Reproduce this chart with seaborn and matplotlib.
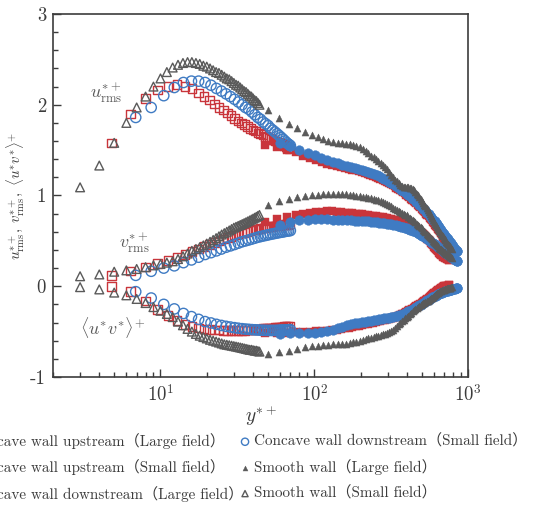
import matplotlib
matplotlib.use("Agg")
import matplotlib.pyplot as plt
import pandas as pd
import seaborn as sns
from matplotlib.ticker import FixedLocator, LogLocator, MultipleLocator, NullFormatter

sns.set_style("ticks")
plt.rcParams["font.family"] = ["cmr10", "Noto Sans CJK SC"]
plt.rcParams["mathtext.fontset"] = "cm"
plt.rcParams["axes.unicode_minus"] = False
plt.rcParams["axes.formatter.use_mathtext"] = True

# ---------------- data: wall-normal positions y*+ ----------------
RED_S_YP = [4.8, 6.4, 8.0, 9.6, 11.2, 12.8, 14.4, 16.0, 17.6, 19.2,
            20.8, 22.4, 24.0, 25.6, 27.2, 28.8, 30.4, 32.0, 33.6, 35.2,
            36.8, 38.4, 40.0, 41.6, 43.2, 44.8, 46.4, 48.0, 49.6, 51.2,
            52.8, 54.4, 56.0, 57.6, 59.2, 60.8, 62.4, 64.0, 65.6, 67.2,
            68.8]
BLUE_S_YP = [6.9, 8.7, 10.5, 12.3, 14.1, 15.9, 17.7, 19.5, 21.3, 23.1,
             24.9, 26.7, 28.5, 30.3, 32.1, 33.9, 35.7, 37.5, 39.3, 41.1,
             42.9, 44.7, 46.5, 48.3, 50.1, 51.9, 53.7, 55.5, 57.3, 59.1,
             60.9, 62.7, 64.5, 66.3, 68.1, 69.9]
GRAY_S_YP = [3, 4, 5, 6, 7, 8, 9, 10, 11, 12,
             13, 14, 15, 16, 17, 18, 19, 20, 21, 22,
             23, 24, 25, 26, 27, 28, 29, 30, 31, 32,
             33, 34, 35, 36, 37, 38, 39, 40, 41, 42,
             43, 44]
RED_L_YP = [48.0, 57.2, 66.4, 75.6, 84.8, 94.0, 103.2, 112.4, 121.6, 130.8,
            140.0, 149.2, 158.4, 167.6, 176.8, 186.0, 195.2, 204.4, 213.6, 222.8,
            232.0, 241.2, 250.4, 259.6, 268.8, 278.0, 287.2, 296.4, 305.6, 314.8,
            324.0, 333.2, 342.4, 351.6, 360.8, 370.0, 379.2, 388.4, 397.6, 406.8,
            416.0, 425.2, 434.4, 443.6, 452.8, 462.0, 471.2, 480.4, 489.6, 498.8,
            508.0, 517.2, 526.4, 535.6, 544.8, 554.0, 563.2, 572.4, 581.6, 590.8,
            600.0, 609.2, 618.4, 627.6, 636.8, 646.0, 655.2, 664.4, 673.6, 682.8,
            692.0, 701.2, 710.4, 719.6, 728.8, 738.0, 747.2, 756.4]
BLUE_L_YP = [59.5, 69.8, 80.1, 90.4, 100.7, 111.0, 121.3, 131.6, 141.9, 152.2,
             162.5, 172.8, 183.1, 193.4, 203.7, 214.0, 224.3, 234.6, 244.9, 255.2,
             265.5, 275.8, 286.1, 296.4, 306.7, 317.0, 327.3, 337.6, 347.9, 358.2,
             368.5, 378.8, 389.1, 399.4, 409.7, 420.0, 430.3, 440.6, 450.9, 461.2,
             471.5, 481.8, 492.1, 502.4, 512.7, 523.0, 533.3, 543.6, 553.9, 564.2,
             574.5, 584.8, 595.1, 605.4, 615.7, 626.0, 636.3, 646.6, 656.9, 667.2,
             677.5, 687.8, 698.1, 708.4, 718.7, 729.0, 739.3, 749.6, 759.9, 770.2,
             780.5, 790.8, 801.1, 811.4, 821.7, 832.0, 842.3, 852.6]
GRAY_L_YP = [50.0, 59.2, 68.4, 77.6, 86.8, 96.0, 105.2, 114.4, 123.6, 132.8,
             142.0, 151.2, 160.4, 169.6, 178.8, 188.0, 197.2, 206.4, 215.6, 224.8,
             234.0, 243.2, 252.4, 261.6, 270.8, 280.0, 289.2, 298.4, 307.6, 316.8,
             326.0, 335.2, 344.4, 353.6, 362.8, 372.0, 381.2, 390.4, 399.6, 408.8,
             418.0, 427.2, 436.4, 445.6, 454.8, 464.0, 473.2, 482.4, 491.6, 500.8,
             510.0, 519.2, 528.4, 537.6, 546.8, 556.0, 565.2, 574.4, 583.6, 592.8,
             602.0, 611.2, 620.4, 629.6, 638.8, 648.0, 657.2, 666.4, 675.6, 684.8,
             694.0, 703.2, 712.4, 721.6, 730.8, 740.0, 749.2, 758.4, 767.6, 776.8,
             786.0]

# ---------------- concave wall upstream, small field ----------------
RED_S_U = [1.58, 1.90, 2.07, 2.16, 2.20, 2.22, 2.20, 2.18, 2.13, 2.09,
           2.05, 2.01, 1.97, 1.94, 1.91, 1.88, 1.85, 1.82, 1.80, 1.78,
           1.76, 1.74, 1.72, 1.71, 1.69, 1.68, 1.67, 1.65, 1.64, 1.63,
           1.62, 1.61, 1.60, 1.59, 1.58, 1.57, 1.56, 1.55, 1.54, 1.53,
           1.52]
RED_S_V = [0.12, 0.17, 0.21, 0.25, 0.285, 0.32, 0.35, 0.38, 0.41, 0.44,
           0.46, 0.48, 0.50, 0.52, 0.535, 0.55, 0.565, 0.575, 0.585, 0.595,
           0.605, 0.613, 0.62, 0.627, 0.633, 0.638, 0.643, 0.648, 0.652, 0.656,
           0.66, 0.663, 0.666, 0.669, 0.672, 0.675, 0.677, 0.679, 0.681, 0.683,
           0.685]
RED_S_UV = [-0.005, -0.06, -0.165, -0.255, -0.32, -0.375, -0.42, -0.445, -0.46, -0.47,
            -0.475, -0.48, -0.483, -0.485, -0.487, -0.488, -0.488, -0.487, -0.486, -0.485,
            -0.483, -0.48, -0.478, -0.475, -0.473, -0.47, -0.468, -0.466, -0.464, -0.462,
            -0.46, -0.458, -0.456, -0.454, -0.452, -0.45, -0.448, -0.446, -0.444, -0.442,
            -0.44]

# ---------------- concave wall downstream, small field ----------------
BLUE_S_U = [1.86, 1.97, 2.10, 2.19, 2.245, 2.26, 2.26, 2.245, 2.215, 2.18,
            2.15, 2.12, 2.09, 2.06, 2.03, 2.00, 1.97, 1.95, 1.92, 1.89,
            1.86, 1.84, 1.81, 1.79, 1.77, 1.74, 1.72, 1.70, 1.68, 1.66,
            1.64, 1.62, 1.60, 1.58, 1.565, 1.55]
BLUE_S_V = [0.12, 0.165, 0.20, 0.225, 0.26, 0.29, 0.32, 0.35, 0.37, 0.39,
            0.41, 0.43, 0.445, 0.46, 0.475, 0.49, 0.50, 0.51, 0.52, 0.53,
            0.54, 0.547, 0.554, 0.56, 0.566, 0.572, 0.577, 0.582, 0.587, 0.591,
            0.595, 0.599, 0.603, 0.607, 0.61, 0.613]
BLUE_S_UV = [-0.06, -0.13, -0.20, -0.25, -0.30, -0.335, -0.365, -0.39, -0.405, -0.42,
             -0.432, -0.442, -0.45, -0.457, -0.463, -0.468, -0.472, -0.475, -0.478, -0.48,
             -0.482, -0.484, -0.485, -0.486, -0.487, -0.487, -0.487, -0.487, -0.486, -0.485,
             -0.484, -0.483, -0.482, -0.481, -0.48, -0.479]

# ---------------- smooth wall, small field ----------------
GRAY_S_U = [1.09, 1.33, 1.58, 1.80, 1.97, 2.09, 2.20, 2.29, 2.36, 2.41,
            2.44, 2.46, 2.47, 2.47, 2.46, 2.45, 2.43, 2.42, 2.40, 2.38,
            2.36, 2.35, 2.33, 2.31, 2.29, 2.28, 2.26, 2.24, 2.22, 2.21,
            2.19, 2.17, 2.15, 2.14, 2.12, 2.10, 2.09, 2.07, 2.05, 2.04,
            2.02, 2.00]
GRAY_S_V = [0.11, 0.13, 0.16, 0.175, 0.19, 0.21, 0.23, 0.245, 0.26, 0.275,
            0.30, 0.33, 0.36, 0.39, 0.41, 0.43, 0.45, 0.47, 0.49, 0.51,
            0.53, 0.55, 0.57, 0.585, 0.60, 0.615, 0.63, 0.645, 0.655, 0.665,
            0.675, 0.685, 0.695, 0.705, 0.715, 0.725, 0.735, 0.745, 0.755, 0.765,
            0.775, 0.785]
GRAY_S_UV = [-0.01, -0.035, -0.07, -0.10, -0.14, -0.185, -0.23, -0.27, -0.305, -0.34,
             -0.39, -0.43, -0.47, -0.50, -0.525, -0.545, -0.56, -0.575, -0.59, -0.60,
             -0.61, -0.62, -0.63, -0.64, -0.645, -0.65, -0.655, -0.66, -0.665, -0.67,
             -0.675, -0.68, -0.685, -0.69, -0.695, -0.70, -0.70, -0.705, -0.71, -0.71,
             -0.715, -0.72]

# ---------------- concave wall upstream, large field ----------------
RED_L_U = [1.56, 1.53, 1.50, 1.475, 1.44, 1.41, 1.387, 1.366, 1.352, 1.34,
           1.323, 1.312, 1.302, 1.295, 1.286, 1.278, 1.27, 1.262, 1.253, 1.242,
           1.23, 1.218, 1.206, 1.193, 1.18, 1.17, 1.16, 1.148, 1.136, 1.124,
           1.111, 1.10, 1.087, 1.074, 1.062, 1.048, 1.035, 1.022, 1.008, 0.994,
           0.98, 0.966, 0.953, 0.94, 0.926, 0.912, 0.898, 0.884, 0.87, 0.856,
           0.842, 0.828, 0.814, 0.80, 0.785, 0.77, 0.755, 0.74, 0.725, 0.71,
           0.695, 0.68, 0.665, 0.65, 0.635, 0.62, 0.605, 0.59, 0.573, 0.556,
           0.54, 0.522, 0.505, 0.488, 0.47, 0.453, 0.436, 0.42]
RED_L_V = [0.705, 0.74, 0.765, 0.785, 0.80, 0.81, 0.818, 0.823, 0.825, 0.824,
           0.821, 0.817, 0.812, 0.808, 0.804, 0.80, 0.796, 0.791, 0.787, 0.783,
           0.779, 0.775, 0.771, 0.767, 0.763, 0.759, 0.754, 0.749, 0.744, 0.74,
           0.735, 0.73, 0.725, 0.72, 0.714, 0.708, 0.702, 0.696, 0.69, 0.683,
           0.675, 0.667, 0.658, 0.649, 0.64, 0.632, 0.62, 0.608, 0.596, 0.584,
           0.572, 0.56, 0.55, 0.54, 0.525, 0.51, 0.495, 0.48, 0.465, 0.45,
           0.437, 0.423, 0.409, 0.396, 0.383, 0.37, 0.358, 0.349, 0.341, 0.333,
           0.325, 0.318, 0.312, 0.306, 0.30, 0.295, 0.29, 0.285]
RED_L_UV = [-0.51, -0.51, -0.51, -0.508, -0.505, -0.502, -0.498, -0.495, -0.49, -0.484,
            -0.477, -0.47, -0.462, -0.455, -0.448, -0.441, -0.434, -0.427, -0.42, -0.414,
            -0.407, -0.40, -0.394, -0.388, -0.382, -0.376, -0.37, -0.364, -0.358, -0.352,
            -0.347, -0.342, -0.336, -0.328, -0.32, -0.311, -0.302, -0.293, -0.284, -0.275,
            -0.266, -0.257, -0.248, -0.239, -0.23, -0.221, -0.212, -0.203, -0.194, -0.185,
            -0.176, -0.167, -0.158, -0.15, -0.14, -0.13, -0.12, -0.11, -0.10, -0.09,
            -0.08, -0.07, -0.062, -0.054, -0.046, -0.038, -0.031, -0.024, -0.017, -0.011,
            -0.006, -0.002, 0.001, 0.004, 0.006, 0.008, 0.009, 0.01]

# ---------------- concave wall downstream, large field ----------------
BLUE_L_U = [1.58, 1.55, 1.505, 1.47, 1.443, 1.415, 1.392, 1.372, 1.355, 1.34,
            1.325, 1.312, 1.30, 1.29, 1.28, 1.268, 1.257, 1.245, 1.234, 1.222,
            1.21, 1.196, 1.182, 1.168, 1.153, 1.138, 1.124, 1.11, 1.095, 1.08,
            1.065, 1.05, 1.035, 1.02, 1.005, 0.99, 0.975, 0.96, 0.945, 0.93,
            0.915, 0.90, 0.885, 0.87, 0.853, 0.837, 0.822, 0.807, 0.792, 0.777,
            0.762, 0.746, 0.73, 0.714, 0.698, 0.682, 0.666, 0.65, 0.634, 0.618,
            0.603, 0.588, 0.573, 0.558, 0.544, 0.53, 0.516, 0.502, 0.489, 0.476,
            0.463, 0.45, 0.438, 0.426, 0.414, 0.403, 0.393, 0.384]
BLUE_L_V = [0.68, 0.71, 0.727, 0.735, 0.738, 0.738, 0.736, 0.734, 0.732, 0.729,
            0.727, 0.725, 0.723, 0.722, 0.72, 0.718, 0.714, 0.71, 0.707, 0.703,
            0.70, 0.697, 0.693, 0.689, 0.685, 0.681, 0.676, 0.671, 0.666, 0.661,
            0.655, 0.649, 0.643, 0.637, 0.631, 0.625, 0.618, 0.612, 0.604, 0.596,
            0.587, 0.578, 0.569, 0.559, 0.549, 0.538, 0.528, 0.518, 0.509, 0.50,
            0.49, 0.481, 0.472, 0.463, 0.455, 0.446, 0.436, 0.426, 0.416, 0.406,
            0.397, 0.388, 0.379, 0.37, 0.362, 0.355, 0.348, 0.341, 0.334, 0.327,
            0.32, 0.313, 0.306, 0.299, 0.292, 0.286, 0.28, 0.275]
BLUE_L_UV = [-0.525, -0.515, -0.515, -0.515, -0.51, -0.502, -0.492, -0.478, -0.462, -0.445,
             -0.43, -0.42, -0.41, -0.402, -0.396, -0.39, -0.384, -0.378, -0.373, -0.368,
             -0.363, -0.358, -0.354, -0.35, -0.345, -0.34, -0.335, -0.33, -0.325, -0.32,
             -0.312, -0.303, -0.294, -0.285, -0.276, -0.268, -0.259, -0.25, -0.241, -0.232,
             -0.222, -0.212, -0.202, -0.193, -0.184, -0.175, -0.166, -0.157, -0.148, -0.139,
             -0.131, -0.124, -0.117, -0.11, -0.103, -0.096, -0.09, -0.084, -0.078, -0.074,
             -0.07, -0.066, -0.062, -0.058, -0.055, -0.052, -0.049, -0.046, -0.043, -0.04,
             -0.037, -0.034, -0.031, -0.028, -0.025, -0.023, -0.021, -0.02]

# ---------------- smooth wall, large field ----------------
GRAY_L_U = [1.94, 1.85, 1.79, 1.745, 1.70, 1.67, 1.64, 1.617, 1.60, 1.59,
            1.58, 1.575, 1.57, 1.563, 1.555, 1.545, 1.53, 1.51, 1.49, 1.465,
            1.44, 1.42, 1.40, 1.38, 1.355, 1.335, 1.315, 1.29, 1.26, 1.23,
            1.20, 1.175, 1.155, 1.135, 1.12, 1.105, 1.097, 1.092, 1.09, 1.088,
            1.083, 1.077, 1.07, 1.055, 1.04, 1.02, 1.00, 0.98, 0.96, 0.94,
            0.92, 0.90, 0.885, 0.865, 0.84, 0.82, 0.80, 0.775, 0.75, 0.73,
            0.71, 0.69, 0.67, 0.65, 0.63, 0.61, 0.595, 0.58, 0.565, 0.55,
            0.535, 0.52, 0.505, 0.49, 0.478, 0.466, 0.454, 0.442, 0.43, 0.418,
            0.405]
GRAY_L_V = [0.89, 0.935, 0.965, 0.985, 0.995, 1.0, 1.008, 1.013, 1.017, 1.02,
            1.02, 1.017, 1.013, 1.007, 1.0, 0.995, 0.99, 0.985, 0.98, 0.975,
            0.968, 0.96, 0.952, 0.945, 0.937, 0.93, 0.918, 0.905, 0.893, 0.88,
            0.867, 0.855, 0.842, 0.83, 0.82, 0.81, 0.80, 0.79, 0.78, 0.768,
            0.756, 0.744, 0.732, 0.72, 0.705, 0.69, 0.675, 0.66, 0.65, 0.637,
            0.622, 0.607, 0.593, 0.58, 0.567, 0.555, 0.543, 0.53, 0.516, 0.503,
            0.49, 0.478, 0.466, 0.452, 0.438, 0.425, 0.415, 0.405, 0.397, 0.39,
            0.382, 0.374, 0.366, 0.358, 0.352, 0.345, 0.338, 0.33, 0.324, 0.318,
            0.312]
GRAY_L_UV = [-0.745, -0.73, -0.71, -0.69, -0.675, -0.663, -0.655, -0.65, -0.645, -0.64,
             -0.638, -0.636, -0.635, -0.628, -0.62, -0.61, -0.60, -0.59, -0.582, -0.575,
             -0.567, -0.558, -0.55, -0.543, -0.536, -0.53, -0.524, -0.517, -0.505, -0.493,
             -0.48, -0.46, -0.44, -0.42, -0.402, -0.385, -0.368, -0.352, -0.338, -0.323,
             -0.308, -0.293, -0.278, -0.263, -0.25, -0.24, -0.23, -0.22, -0.21, -0.20,
             -0.19, -0.182, -0.175, -0.167, -0.158, -0.15, -0.142, -0.134, -0.126, -0.118,
             -0.108, -0.099, -0.09, -0.08, -0.072, -0.064, -0.057, -0.051, -0.045, -0.04,
             -0.036, -0.032, -0.029, -0.026, -0.023, -0.02, -0.018, -0.016, -0.014, -0.012,
             -0.01]

LABELS = [
    "Concave wall upstream（Large field）",
    "Concave wall upstream（Small field）",
    "Concave wall downstream（Large field）",
    "Concave wall downstream（Small field）",
    "Smooth wall（Large field）",
    "Smooth wall（Small field）",
]

RED = "#c9353b"
BLUE = "#3f7bc3"
GRAY = "#5a5a5a"
INK = "#3c3c3c"

datasets = [
    (LABELS[0], RED_L_YP, RED_L_U, RED_L_V, RED_L_UV, RED, "s", True, 30),
    (LABELS[1], RED_S_YP, RED_S_U, RED_S_V, RED_S_UV, RED, "s", False, 38),
    (LABELS[2], BLUE_L_YP, BLUE_L_U, BLUE_L_V, BLUE_L_UV, BLUE, "o", True, 48),
    (LABELS[3], BLUE_S_YP, BLUE_S_U, BLUE_S_V, BLUE_S_UV, BLUE, "o", False, 55),
    (LABELS[4], GRAY_L_YP, GRAY_L_U, GRAY_L_V, GRAY_L_UV, GRAY, "^", True, 26),
    (LABELS[5], GRAY_S_YP, GRAY_S_U, GRAY_S_V, GRAY_S_UV, GRAY, "^", False, 40),
]

fig = plt.figure(figsize=(5.42, 5.05), dpi=100)
ax = fig.add_axes([0.0978, 0.2535, 0.7657, 0.7188])

for label, yp, u, v, uv, color, marker, filled, size in datasets:
    df = pd.DataFrame({"yp": list(yp) * 3, "val": list(u) + list(v) + list(uv)})
    if filled:
        sns.scatterplot(data=df, x="yp", y="val", ax=ax, marker=marker, s=size,
                        color=color, edgecolor=color, linewidth=0.3,
                        label=label, legend=False, zorder=3)
    else:
        sns.scatterplot(data=df, x="yp", y="val", ax=ax, marker=marker, s=size,
                        color=color, facecolor="none", edgecolor=color,
                        linewidth=1.0, label=label, legend=False, zorder=3)

ax.set_xscale("log")
ax.set_xlim(2, 1000)
ax.set_ylim(-1, 3)

ax.xaxis.set_major_locator(FixedLocator([10, 100, 1000]))
ax.set_xticklabels([r"$10^{1}$", r"$10^{2}$", r"$10^{3}$"])
ax.xaxis.set_minor_locator(LogLocator(base=10, subs=range(2, 10), numticks=20))
ax.xaxis.set_minor_formatter(NullFormatter())
ax.set_yticks([-1, 0, 1, 2, 3])
ax.set_yticklabels(["-1", "0", "1", "2", "3"])
ax.yaxis.set_minor_locator(MultipleLocator(0.2))

ax.tick_params(which="both", direction="in", top=False, right=False,
               color=INK, width=1.0, labelcolor=INK, labelsize=13.5, pad=5)
ax.tick_params(which="major", length=6)
ax.tick_params(which="minor", length=3.5)
for sp in ax.spines.values():
    sp.set_color(INK)
    sp.set_linewidth(1.2)

ax.set_xlabel(r"$y^{*+}$", fontsize=14, color=INK, labelpad=-1)
ax.set_ylabel(r"$u^{*+}_{\mathrm{rms}},\;v^{*+}_{\mathrm{rms}},\;\langle u^{*}v^{*}\rangle^{+}$",
              fontsize=10.7, color=INK, labelpad=2)

ax.text(4.46, 2.13, r"$u^{*+}_{\mathrm{rms}}$", fontsize=13, color=GRAY,
        ha="center", va="center")
ax.text(6.8, 0.47, r"$v^{*+}_{\mathrm{rms}}$", fontsize=13, color=GRAY,
        ha="center", va="center")
ax.text(4.9, -0.45, r"$\langle u^{*}v^{*}\rangle^{+}$", fontsize=13, color=GRAY,
        ha="center", va="center")

handles, labels = ax.get_legend_handles_labels()
leg = fig.legend(handles, labels, ncol=2, loc="upper center",
                 bbox_to_anchor=(0.4465, 0.170), frameon=False, fontsize=10.9,
                 markerscale=0.7, handletextpad=0.3, columnspacing=-0.2,
                 labelspacing=0.71, handlelength=0.6)
for t in leg.get_texts():
    t.set_color(INK)

fig.savefig("out.png", dpi=100)
